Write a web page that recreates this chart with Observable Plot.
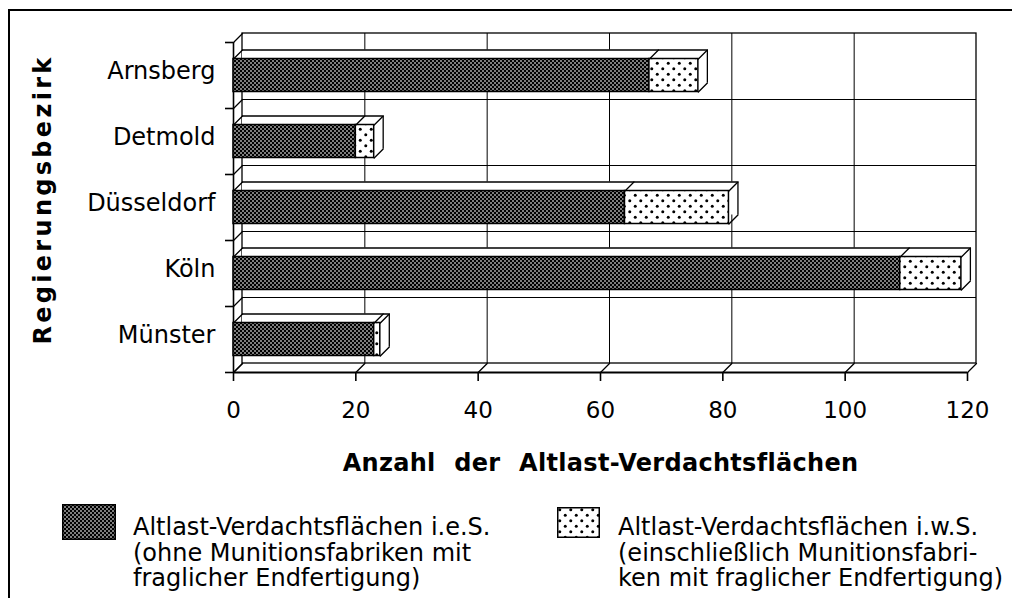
<!DOCTYPE html>
<html>
<head>
<meta charset="utf-8">
<script src="https://cdn.jsdelivr.net/npm/d3@7"></script>
<script src="https://cdn.jsdelivr.net/npm/@observablehq/plot@0.6"></script>
<style>
  html, body { margin: 0; padding: 0; background: #fff; }
  body { width: 1012px; height: 598px; position: relative; overflow: hidden; font-family: "DejaVu Sans", sans-serif; color: #000; }
  #frame { position: absolute; left: 8px; top: 9px; right: 0; bottom: 0; border-left: 2px solid #000; border-top: 2px solid #000; pointer-events: none; }
  #chart svg { display: block; }
  #legend { position: relative; height: 118px; }
  .item { position: absolute; display: flex; align-items: flex-start; }
  .item .txt { font-size: 24px; line-height: 25.5px; white-space: pre; }
</style>
</head>
<body>
<svg width="0" height="0" style="position:absolute">
  <defs>
    <pattern id="dark" patternUnits="userSpaceOnUse" width="4" height="4">
      <rect width="4" height="4" fill="#000"></rect>
      <rect x="0.3" y="0.3" width="1.4" height="1.4" fill="#fff"></rect>
      <rect x="2.3" y="2.3" width="1.4" height="1.4" fill="#fff"></rect>
    </pattern>
    <pattern id="dots" patternUnits="userSpaceOnUse" width="11" height="11">
      <rect width="11" height="11" fill="#fff"></rect>
      <circle cx="2.75" cy="2.75" r="1.5" fill="#000"></circle>
      <circle cx="8.25" cy="8.25" r="1.5" fill="#000"></circle>
    </pattern>
  </defs>
</svg>
<div id="chart"></div>
<div id="legend"></div>
<div id="frame"></div>
<script>
// ---- data ----
const regions = ["Arnsberg", "Detmold", "Düsseldorf", "Köln", "Münster"];
const ieS = [68, 20, 64, 109, 23];          // Altlast-Verdachtsflächen i.e.S.
const iwS = [76, 23, 81, 119, 24];          // Altlast-Verdachtsflächen i.w.S. (total)
const xTicks = [0, 20, 40, 60, 80, 100, 120];
const xTitle = "Anzahl der Altlast-Verdachtsflächen";
const yTitle = "Regierungsbezirk";
const legendLabels = [
  "Altlast-Verdachtsflächen i.e.S.\n(ohne Munitionsfabriken mit\nfraglicher Endfertigung)",
  "Altlast-Verdachtsflächen i.w.S.\n(einschließlich Munitionsfabri-\nken mit fraglicher Endfertigung)"
];

// ---- derived tables ----
const D = 9;                                 // depth of the pseudo-3D box (px)
const L = D * Math.SQRT2;
const x0 = xTicks[0], x1 = xTicks[xTicks.length - 1];
const n = regions.length;
const rows = regions.map((r, i) => ({region: r, ieS: ieS[i], iwS: iwS[i], top: i + 0.25, bot: i + 0.75}));
const bounds = d3.range(n + 1);
const centers = regions.map((_, i) => i + 0.5);
const diag = {draw(ctx, l) { ctx.moveTo(0, 0); ctx.lineTo(0, -l); }};
const vec = {length: L, rotate: 45, anchor: "start", shape: diag, stroke: "black", strokeWidth: 1.3};

const corners = [];
rows.forEach(r => {
  corners.push({x: x0, y: r.top}, {x: r.ieS, y: r.top}, {x: r.iwS, y: r.top}, {x: r.iwS, y: r.bot});
});

const chart = Plot.plot({
  width: 1012,
  height: 480,
  marginLeft: 233,
  marginRight: 45,
  marginTop: 42,
  marginBottom: 108,
  style: {fontFamily: "DejaVu Sans, sans-serif", fontSize: "23px", color: "black", background: "white", overflow: "visible"},
  x: {domain: [x0, x1]},
  y: {domain: [n, 0]},
  marks: [
    // back wall
    Plot.rect([{}], {x1: x0, x2: x1, y1: 0, y2: n, dx: D, dy: -D, fill: "white", stroke: "black", strokeWidth: 1.3}),
    Plot.ruleX(xTicks.slice(1, -1), {y1: 0, y2: n, dx: D, dy: -D, stroke: "black", strokeWidth: 1}),
    Plot.ruleY(bounds.slice(1, -1), {x1: x0, x2: x1, dx: D, dy: -D, stroke: "black", strokeWidth: 1}),
    // left wall & floor diagonals
    Plot.vector(bounds, {x: () => x0, y: d => d, ...vec}),
    Plot.vector(xTicks, {x: d => d, y: () => n, ...vec}),
    // front axes lines
    Plot.ruleX([x0], {y1: 0, y2: n, stroke: "black", strokeWidth: 1.6}),
    Plot.ruleY([n], {x1: x0, x2: x1, stroke: "black", strokeWidth: 2.2}),
    Plot.axisX(xTicks, {tickSize: 9, tickPadding: 20, strokeWidth: 1.6, fontSize: 23, label: null}),
    Plot.axisY(bounds, {tickSize: 8, strokeWidth: 1.6, tickFormat: () => "", label: null}),
    Plot.axisY(centers, {tickSize: 0, tickPadding: 18, dy: -4, fontSize: 24, tickFormat: d => regions[Math.floor(d)], label: null}),
    // 3D bars: back face (hidden fill), top & side edges
    Plot.rect(rows, {x1: () => x0, x2: "iwS", y1: "top", y2: "bot", dx: D, dy: -D, fill: "white"}),
    Plot.ruleY(rows, {y: "top", x1: () => x0, x2: "iwS", dx: D, dy: -D, stroke: "black", strokeWidth: 1.3}),
    Plot.ruleX(rows, {x: "iwS", y1: "top", y2: "bot", dx: D, dy: -D, stroke: "black", strokeWidth: 1.3}),
    // front faces
    Plot.rect(rows, {x1: () => x0, x2: "ieS", y1: "top", y2: "bot", fill: "url(#dark)", stroke: "black", strokeWidth: 1.5}),
    Plot.rect(rows, {x1: "ieS", x2: "iwS", y1: "top", y2: "bot", fill: "url(#dots)", stroke: "black", strokeWidth: 1.5}),
    Plot.vector(corners, {x: "x", y: "y", ...vec}),
    // titles
    Plot.text([xTitle], {text: d => d, frameAnchor: "bottom", dy: 91, lineAnchor: "middle", textAnchor: "middle", fontWeight: "bold", fontSize: 24}),
    Plot.text([yTitle], {text: d => d, frameAnchor: "left", rotate: -90, dx: -190, dy: -8, lineAnchor: "middle", textAnchor: "middle", fontWeight: "bold", fontSize: 24})
  ]
});
// letter / word spacing of the two titles
chart.querySelectorAll("text").forEach(t => {
  if (t.textContent === xTitle) {
    t.style.letterSpacing = "0.3px";
    t.style.wordSpacing = "10px";
  } else if (t.textContent === yTitle) {
    t.style.letterSpacing = "3.3px";
  }
});
document.getElementById("chart").appendChild(chart);

// ---- legend (HTML below the SVG) ----
const legend = document.getElementById("legend");
const legendItems = [
  {fill: "url(#dark)", left: 62, top: 24, w: 54, h: 36, gap: 17, textTop: 11},
  {fill: "url(#dots)", left: 557, top: 27, w: 43, h: 31, gap: 18, textTop: 8}
];
legendItems.forEach((it, i) => {
  const div = document.createElement("div");
  div.className = "item";
  div.style.left = it.left + "px";
  div.style.top = it.top + "px";
  div.innerHTML = `<svg width="${it.w}" height="${it.h}" style="flex:none"><rect x="0.75" y="0.75" width="${it.w - 1.5}" height="${it.h - 1.5}" fill="${it.fill}" stroke="#000" stroke-width="1.5"></rect></svg>`;
  const t = document.createElement("div");
  t.className = "txt";
  t.style.marginLeft = it.gap + "px";
  t.style.marginTop = it.textTop + "px";
  t.textContent = legendLabels[i];
  div.appendChild(t);
  legend.appendChild(div);
});
</script>
</body>
</html>
